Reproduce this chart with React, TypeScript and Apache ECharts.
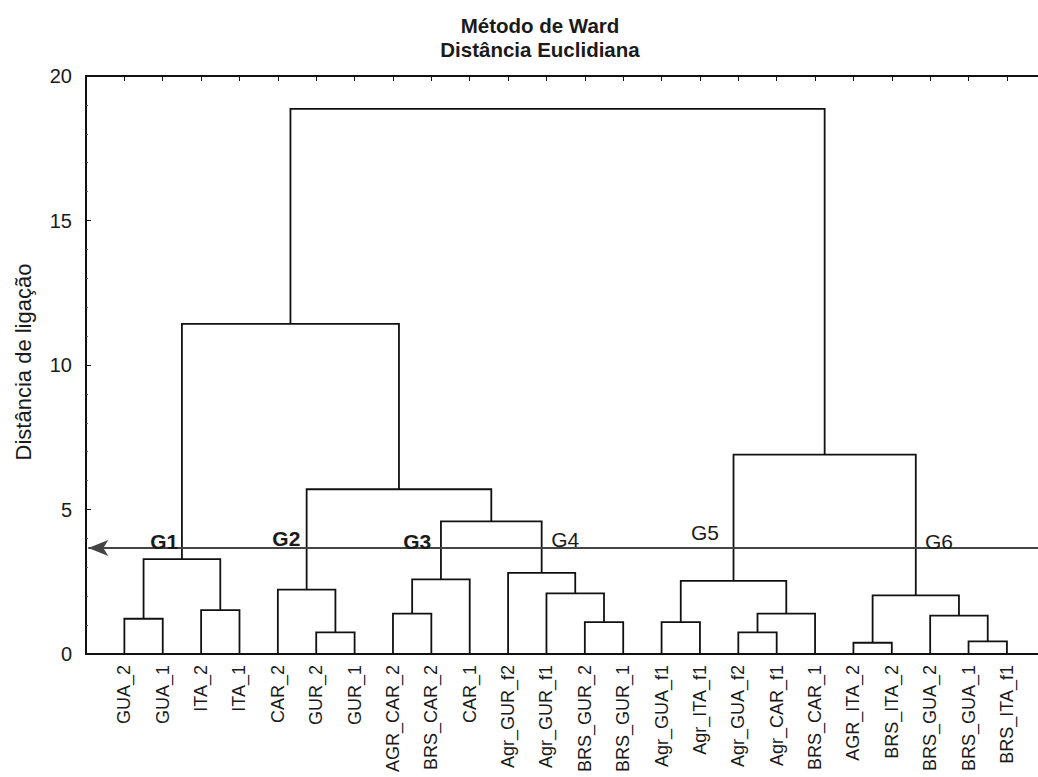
import React, { useEffect, useRef } from "react";
import * as echarts from "echarts";

// Leaves (in dendrogram order)
const leaves = [
  "GUA_2", "GUA_1", "ITA_2", "ITA_1", "CAR_2", "GUR_2", "GUR_1", "AGR_CAR_2",
  "BRS_CAR_2", "CAR_1", "Agr_GUR_f2", "Agr_GUR_f1", "BRS_GUR_2", "BRS_GUR_1",
  "Agr_GUA_f1", "Agr_ITA_f1", "Agr_GUA_f2", "Agr_CAR_f1", "BRS_CAR_1",
  "AGR_ITA_2", "BRS_ITA_2", "BRS_GUA_2", "BRS_GUA_1", "BRS_ITA_f1",
];

// Merges: node ids 0..23 are leaves, merge k gets id 24 + k
const mergeLeft = [0, 2, 24, 5, 4, 7, 29, 12, 11, 10, 30, 28, 26, 14, 16, 38, 37, 19, 22, 21, 41, 40, 36];
const mergeRight = [1, 3, 25, 6, 27, 8, 9, 13, 31, 32, 33, 34, 35, 15, 17, 18, 39, 20, 23, 42, 43, 44, 45];
const mergeHeight = [1.22, 1.52, 3.28, 0.75, 2.23, 1.4, 2.58, 1.1, 2.1, 2.81, 4.59, 5.7, 11.42, 1.1, 0.75, 1.4, 2.53, 0.39, 0.44, 1.33, 2.03, 6.9, 18.86];

// Y axis
const yMin = 0;
const yMax = 20;
const yInterval = 5;

// Cut line and group labels
const cutHeight = 3.67;
const groupNames = ["G1", "G2", "G3", "G4", "G5", "G6"];
const groupX = [2.04, 5.22, 8.63, 12.49, 16.13, 22.23];
const groupY = [3.91, 4.01, 3.91, 3.96, 4.19, 3.91];

const titleText = "Método de Ward\nDistância Euclidiana";
const yAxisTitle = "Distância de ligação";

const FONT = "'Liberation Sans', Arial, sans-serif";
const X_MAX = 24.81;

function buildSegments() {
  const nx: number[] = leaves.map((_, i) => i + 1);
  const nh: number[] = leaves.map(() => 0);
  const segs: number[][] = [];
  for (let k = 0; k < mergeLeft.length; k++) {
    const a = mergeLeft[k];
    const b = mergeRight[k];
    const h = mergeHeight[k];
    segs.push([nx[a], nh[a], nx[b], nh[b], h]);
    nx.push((nx[a] + nx[b]) / 2);
    nh.push(h);
  }
  return segs;
}

export default function App() {
  const ref = useRef<HTMLDivElement>(null);
  useEffect(() => {
    if (!ref.current) return;
    const chart = echarts.init(ref.current, null, { renderer: "svg" });
    const segs = buildSegments();
    const option: any = {
      animation: false,
      backgroundColor: "#ffffff",
      textStyle: { fontFamily: FONT },
      title: {
        text: titleText,
        left: 535,
        top: 8,
        textAlign: "center",
        textStyle: {
          fontFamily: FONT,
          fontSize: 20.5,
          fontWeight: "bold",
          color: "#1a1a1a",
          lineHeight: 24,
        },
      },
      graphic: [
        {
          type: "text",
          x: 23,
          y: 362,
          rotation: Math.PI / 2,
          style: {
            text: yAxisTitle,
            fontFamily: FONT,
            fontSize: 22,
            fill: "#1a1a1a",
            textAlign: "center",
            textVerticalAlign: "middle",
          },
        },
      ],
      grid: { left: 86, right: 0, top: 76, bottom: 123 },
      xAxis: [
        {
          type: "value",
          position: "bottom",
          min: 0,
          max: X_MAX,
          interval: 1,
          axisLine: { show: true, lineStyle: { color: "#111", width: 2 } },
          axisTick: { show: false },
          splitLine: { show: false },
          axisLabel: {
            show: true,
            rotate: 90,
            margin: 11,
            fontSize: 18,
            fontFamily: FONT,
            color: "#1a1a1a",
            showMinLabel: true,
            showMaxLabel: false,
            formatter: (v: number) => {
              const i = Math.round(v);
              if (Math.abs(v - i) > 1e-6) return "";
              return leaves[i - 1] ?? "";
            },
          },
        },
        {
          type: "value",
          position: "top",
          min: 0,
          max: X_MAX,
          interval: 1,
          axisLine: { show: true, lineStyle: { color: "#111", width: 2 } },
          axisTick: { show: true, inside: true, length: 5, lineStyle: { color: "#111" } },
          axisLabel: { show: false },
          splitLine: { show: false },
        },
      ],
      yAxis: {
        type: "value",
        min: yMin,
        max: yMax,
        interval: yInterval,
        axisLine: { show: true, lineStyle: { color: "#111", width: 2 } },
        axisTick: { show: true, inside: true, length: 5, lineStyle: { color: "#111" } },
        minorTick: { show: true, splitNumber: 5, length: 2, lineStyle: { color: "#555" } },
        splitLine: { show: false },
        axisLabel: {
          margin: 14,
          fontSize: 20,
          fontFamily: FONT,
          color: "#1a1a1a",
        },
      },
      series: [
        {
          type: "custom",
          coordinateSystem: "cartesian2d",
          xAxisIndex: 0,
          yAxisIndex: 0,
          clip: false,
          silent: true,
          encode: { x: [0, 2], y: [1, 3, 4] },
          data: segs,
          renderItem: (params: any, api: any) => {
            const xa = api.value(0);
            const ha = api.value(1);
            const xb = api.value(2);
            const hb = api.value(3);
            const h = api.value(4);
            const pts = [
              api.coord([xa, ha]),
              api.coord([xa, h]),
              api.coord([xb, h]),
              api.coord([xb, hb]),
            ];
            return {
              type: "polyline",
              shape: { points: pts },
              style: { stroke: "#111", lineWidth: 1.8, fill: null },
            };
          },
        },
        {
          type: "line",
          data: [],
          silent: true,
          markLine: {
            silent: true,
            animation: false,
            symbol: ["arrow", "none"],
            symbolSize: [12, 20],
            label: { show: false },
            itemStyle: { color: "#111" },
            lineStyle: { color: "#444", width: 2, type: "solid" },
            data: [[{ coord: [0.06, cutHeight] }, { coord: [X_MAX, cutHeight] }]],
          },
        },
        {
          type: "custom",
          coordinateSystem: "cartesian2d",
          xAxisIndex: 0,
          yAxisIndex: 0,
          silent: true,
          encode: { x: 0, y: 1 },
          data: groupNames.map((n, i) => [groupX[i], groupY[i], i]),
          renderItem: (params: any, api: any) => {
            const p = api.coord([api.value(0), api.value(1)]);
            const i = api.value(2);
            return {
              type: "text",
              x: p[0],
              y: p[1],
              z2: 10,
              style: {
                text: groupNames[i],
                fontFamily: FONT,
                fontSize: 21,
                fontWeight: i < 3 ? "bold" : "normal",
                fill: "#1a1a1a",
                textAlign: "center",
                textVerticalAlign: "middle",
              },
            };
          },
          z: 5,
        },
      ],
    };
    chart.setOption(option);
    return () => chart.dispose();
  }, []);
  return (
    <div
      ref={ref}
      style={{ position: "fixed", left: 0, top: 0, width: 1038, height: 777, background: "#fff" }}
    />
  );
}
